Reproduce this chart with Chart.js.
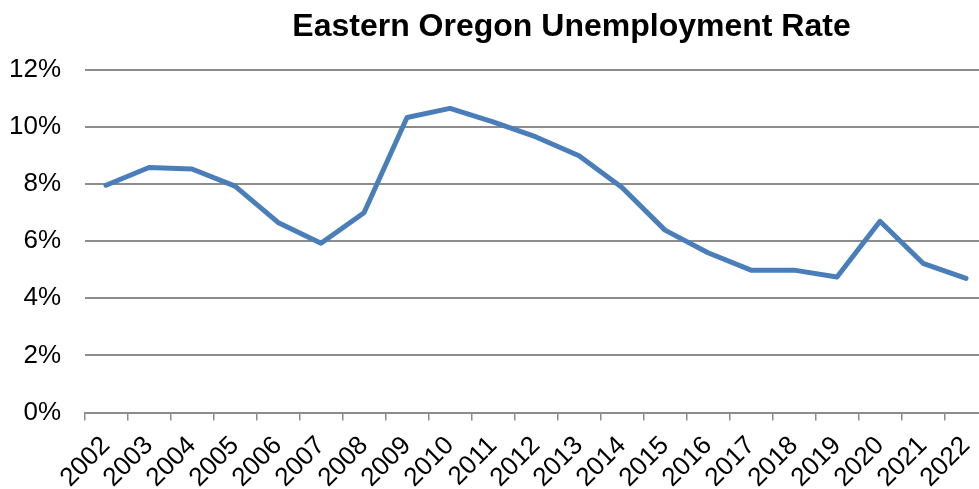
<!DOCTYPE html>
<html lang="en">
<head>
    <meta charset="UTF-8">
    <title>Eastern Oregon Unemployment Rate</title>
    <script src="https://cdn.jsdelivr.net/npm/chart.js"></script>
    <style>
        body { margin: 0; overflow: hidden; background: #fff; }
    </style>
</head>
<body>
    <canvas id="myChart" width="990" height="489"></canvas>

    <script>
        // Values (percent)
        const years = ['2002', '2003', '2004', '2005', '2006', '2007', '2008', '2009', '2010', '2011', '2012',
                       '2013', '2014', '2015', '2016', '2017', '2018', '2019', '2020', '2021', '2022'];
        const unemploymentRate = [7.95, 8.57, 8.52, 7.92, 6.65, 5.92, 6.99, 10.32, 10.64, 10.17, 9.64,
                                  8.98, 7.87, 6.38, 5.59, 4.98, 4.98, 4.74, 6.69, 5.22, 4.69];
        const chartTitle = 'Eastern Oregon Unemployment Rate';

        const fontFamily = '"Liberation Sans", Arial, sans-serif';
        const gridGray = '#8c8c8c';

        // title is drawn by hand so it can sit off the plot centre, like the Excel original
        const titlePlugin = {
            id: 'excelTitle',
            afterDraw(chart) {
                const ctx = chart.ctx;
                ctx.save();
                ctx.font = 'bold 32px ' + fontFamily;
                ctx.fillStyle = '#000';
                ctx.textAlign = 'center';
                ctx.textBaseline = 'middle';
                ctx.fillText(chartTitle, 571.5, 27);
                ctx.restore();
            }
        };

        const ctx = document.getElementById('myChart').getContext('2d');
        new Chart(ctx, {
            type: 'line',
            data: {
                labels: years,
                datasets: [{
                    label: 'Unemployment Rate',
                    data: unemploymentRate,
                    borderColor: '#4a7ebb',
                    backgroundColor: '#4a7ebb',
                    borderWidth: 5,
                    borderJoinStyle: 'round',
                    borderCapStyle: 'round',
                    pointRadius: 0,
                    tension: 0,
                    fill: false
                }]
            },
            options: {
                responsive: false,
                animation: false,
                layout: { padding: { top: 69.5, left: 0, right: 2.5, bottom: 0 } },
                plugins: {
                    legend: { display: false },
                    tooltip: { enabled: false },
                    title: { display: false }
                },
                scales: {
                    x: {
                        offset: true,
                        afterFit: s => {
                            s.height = 76.5;
                            s.paddingLeft = 0;
                            s.paddingRight = 0;
                        },
                        grid: {
                            display: true,
                            offset: true,
                            drawOnChartArea: false,
                            drawTicks: true,
                            tickLength: 8,
                            color: gridGray,
                            lineWidth: 1.5
                        },
                        border: { display: true, color: gridGray, width: 2 },
                        ticks: {
                            autoSkip: false,
                            minRotation: 45,
                            maxRotation: 45,
                            padding: 10,
                            color: '#000',
                            font: { family: fontFamily, size: 26 }
                        }
                    },
                    y: {
                        min: 0,
                        max: 12,
                        afterFit: s => { s.width = 84.5; },
                        grid: {
                            color: gridGray,
                            lineWidth: 2,
                            drawTicks: false
                        },
                        border: { display: false },
                        ticks: {
                            stepSize: 2,
                            padding: 23.5,
                            color: '#000',
                            font: { family: fontFamily, size: 26 },
                            callback: v => v + '%'
                        }
                    }
                }
            },
            plugins: [titlePlugin]
        });
    </script>
</body>
</html>
